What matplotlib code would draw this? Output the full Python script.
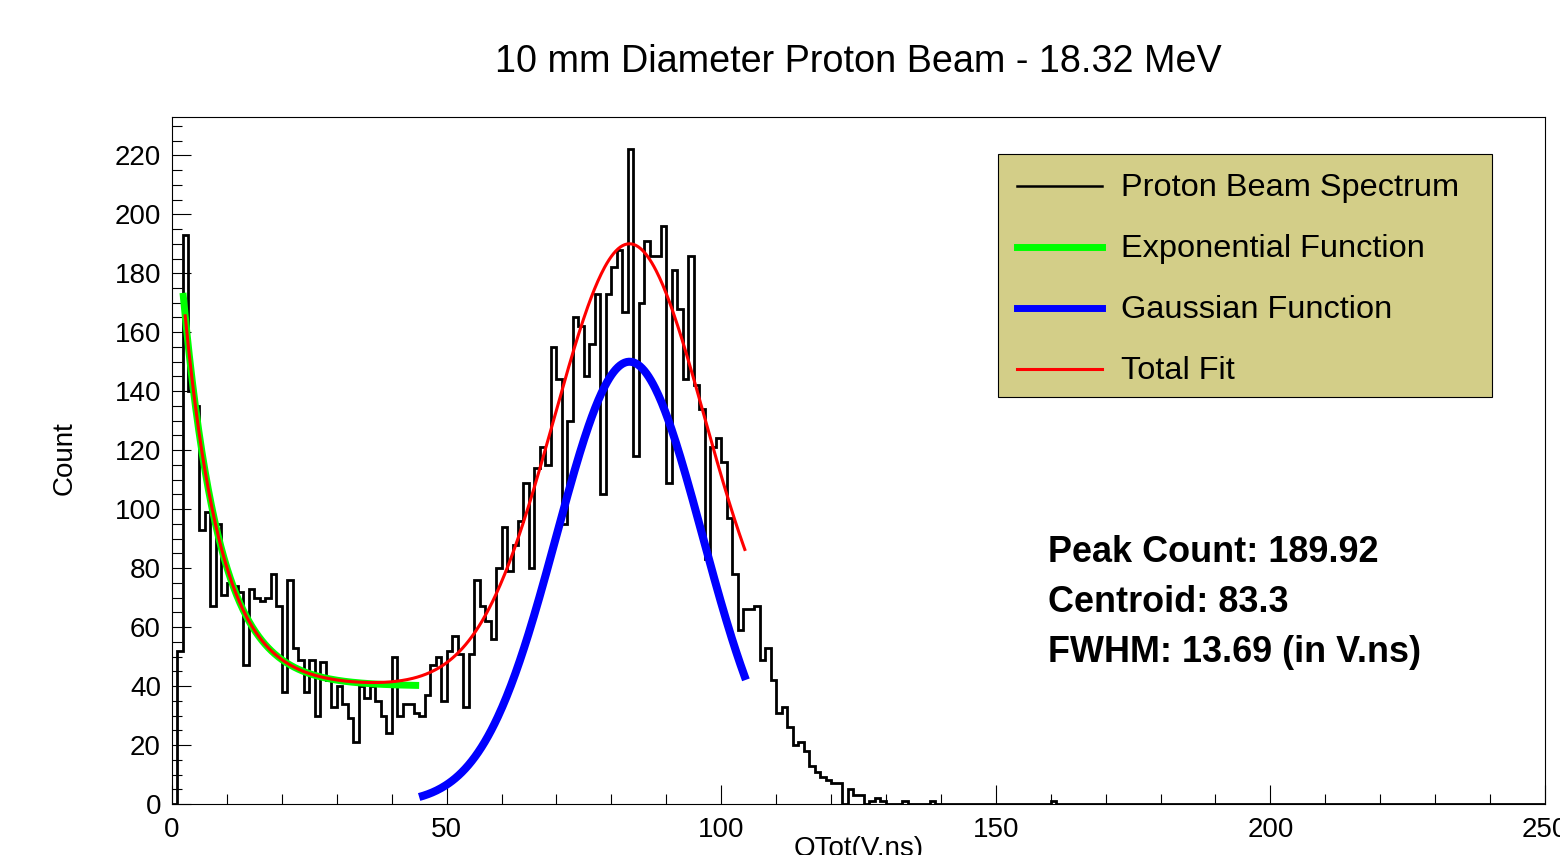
import numpy as np
import matplotlib
matplotlib.use("Agg")
import matplotlib.pyplot as plt
from matplotlib.ticker import MultipleLocator
from matplotlib.patches import Rectangle
from matplotlib.lines import Line2D

plt.rcParams['font.family'] = ['Liberation Sans', 'DejaVu Sans']

# histogram: 1 V.ns bins from 0 to 250, counts
bin_edges = list(range(0, 251))
counts = [
    0, 52, 193, 140, 135, 93, 99, 67, 95, 71,
    75, 74, 72, 47, 73, 70, 69, 70, 78, 67,
    38, 76, 53, 49, 38, 49, 30, 48, 42, 33,
    40, 34, 29, 21, 40, 36, 40, 35, 30, 24,
    50, 30, 34, 34, 31, 30, 37, 47, 50, 35,
    52, 57, 51, 33, 51, 76, 67, 62, 56, 80,
    94, 79, 88, 96, 109, 80, 114, 121, 115, 155,
    144, 95, 130, 165, 162, 145, 156, 173, 105, 173,
    182, 188, 167, 222, 118, 170, 191, 186, 186, 196,
    109, 181, 168, 144, 186, 142, 134, 83, 121, 124,
    116, 97, 78, 59, 66, 66, 67, 49, 53, 42,
    31, 33, 26, 20, 21, 18, 13, 11, 9, 8,
    7, 7, 0, 5, 3, 3, 0, 1, 2, 1,
    0, 0, 0, 1, 0, 0, 0, 0, 1, 0,
    0, 0, 0, 0, 0, 0, 0, 0, 0, 0,
    0, 0, 0, 0, 0, 0, 0, 0, 0, 0,
    1,
]
counts = counts + [0] * (250 - len(counts))

# fit parameters
expo_amp, expo_slope, expo_const = 180.0, 0.15, 40.0
expo_range = (2.0, 45.0)
gaus_amp, gaus_mean, gaus_sigma = 150.0, 83.3, 13.3
gaus_range = (45.0, 104.5)
total_sigma = 13.7
total_range = (2.4, 104.3)

legend_labels = ['Proton Beam Spectrum', 'Exponential Function',
                 'Gaussian Function', 'Total Fit']
stats_lines = ['Peak Count: 189.92', 'Centroid: 83.3', 'FWHM: 13.69 (in V.ns)']


def expo(x):
    return expo_amp * np.exp(-expo_slope * x) + expo_const


def gaus(x, sigma):
    return gaus_amp * np.exp(-0.5 * ((x - gaus_mean) / sigma) ** 2)


W, H = 1560, 855
fig = plt.figure(figsize=(W / 100, H / 100), dpi=100)
ax = fig.add_axes([172 / W, 1 - 804 / H, (1545 - 172) / W, (804 - 117) / H])

ax.stairs(counts, bin_edges, color='black', linewidth=2.0, baseline=0, zorder=2)

xe = np.linspace(*expo_range, 300)
ax.plot(xe, expo(xe), color='#00ff00', linewidth=5.0, zorder=3, solid_capstyle='butt')

xg = np.linspace(*gaus_range, 300)
ax.plot(xg, gaus(xg, gaus_sigma), color='#0000ff', linewidth=5.8, zorder=3,
        solid_capstyle='butt')

xt = np.linspace(*total_range, 500)
ax.plot(xt, expo(xt) + gaus(xt, total_sigma), color='#ff0000', linewidth=2.2, zorder=4)

ax.set_xlim(0, 250)
ax.set_ylim(0, 233)
ax.xaxis.set_major_locator(MultipleLocator(50))
ax.xaxis.set_minor_locator(MultipleLocator(10))
ax.yaxis.set_major_locator(MultipleLocator(20))
ax.yaxis.set_minor_locator(MultipleLocator(5))
ax.tick_params(which='both', direction='in', top=False, right=False,
               width=0.8, labelsize=20, colors='black')
ax.tick_params(which='major', length=14)
ax.tick_params(which='minor', length=7)
ax.tick_params(axis='x', pad=9)
ax.tick_params(axis='y', pad=8)
for sp in ax.spines.values():
    sp.set_linewidth(0.8)

fig.text(858 / W, 1 - 62 / H, '10 mm Diameter Proton Beam - 18.32 MeV',
         ha='center', va='center', fontsize=27.2)
fig.text(65 / W, 1 - 458 / H, 'Count', rotation=90, ha='center', va='center',
         fontsize=20)
fig.text(858.5 / W, 1 - 836 / H, 'QTot(V.ns)', ha='center', va='top', fontsize=20)

# legend box drawn by hand to match the ROOT TLegend
fig.add_artist(Rectangle((998 / W, 1 - 397 / H), (1492 - 998) / W, (397 - 154) / H,
                         transform=fig.transFigure, facecolor='#d3ce88',
                         edgecolor='black', linewidth=0.8, zorder=5))
leg_styles = [('black', 1.8), ('#00ff00', 5.0), ('#0000ff', 5.0), ('#ff0000', 2.2)]
leg_rows = [186, 247, 308, 369]
for (col, lw), row, lab in zip(leg_styles, leg_rows, legend_labels):
    yy = 1 - row / H
    fig.add_artist(Line2D([1017 / W, 1102 / W], [yy, yy], transform=fig.transFigure,
                          color=col, linewidth=lw, zorder=6))
    fig.text(1121 / W, 1 - (row + 2) / H, lab, ha='left', va='center',
             fontsize=23.4, zorder=6)

for i, line in enumerate(stats_lines):
    fig.text(1048 / W, 1 - (552 + 50 * i) / H, line, ha='left', va='center',
             fontsize=25.9, fontweight='bold')

fig.savefig('out.png', dpi=100)
